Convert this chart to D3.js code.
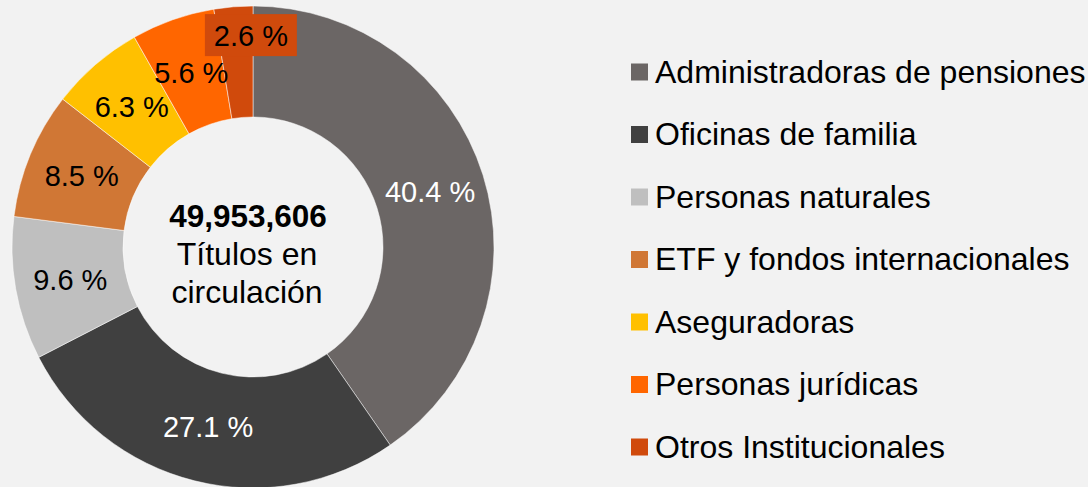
<!DOCTYPE html>
<html>
<head>
<meta charset="utf-8">
<script src="https://cdn.jsdelivr.net/npm/d3@7"></script>
<style>
  html, body { margin: 0; padding: 0; background: #f2f2f2; }
  svg { display: block; font-family: Arial, "Liberation Sans", sans-serif; }
</style>
</head>
<body>
<svg id="chart" width="1088" height="487"></svg>
<script>
const categories = [
  'Administradoras de pensiones',
  'Oficinas de familia',
  'Personas naturales',
  'ETF y fondos internacionales',
  'Aseguradoras',
  'Personas jurídicas',
  'Otros Institucionales'
];
const shares = [40.4, 27.1, 9.6, 8.5, 6.3, 5.6, 2.6];
const colors = ['#6b6665', '#404040', '#bfbfbf', '#d07735', '#ffc000', '#ff6600', '#d04a0c'];
const labelColors = ['#ffffff', '#ffffff', '#000000', '#000000', '#000000', '#000000', '#000000'];
const totalLabel = ['49,953,606', 'Títulos en', 'circulación'];

const svg = d3.select('#chart');
const cx = 253, cy = 247;
const outerR = 241, innerR = 130;

const color = d3.scaleOrdinal().domain(categories).range(colors);

const pie = d3.pie().sort(null).value(d => d.value);
const arcs = pie(categories.map((name, i) => ({ name, value: shares[i], i })));
const arc = d3.arc().innerRadius(innerR).outerRadius(outerR);

const g = svg.append('g').attr('transform', `translate(${cx},${cy})`);

g.selectAll('path.slice')
  .data(arcs)
  .enter().append('path')
  .attr('class', 'slice')
  .attr('d', arc)
  .attr('fill', d => color(d.data.name))
  .attr('stroke', '#ffffff')
  .attr('stroke-width', 0.5);

// the smallest slice gets its label pushed out onto a filled box
const labelShift = { 6: [13, -27] };

const labels = g.selectAll('g.lbl')
  .data(arcs)
  .enter().append('g')
  .attr('class', 'lbl')
  .attr('transform', d => {
    const [x, y] = arc.centroid(d);
    const s = labelShift[d.data.i] || [0, 0];
    return `translate(${x + s[0]},${y + s[1]})`;
  });

labels.filter(d => labelShift[d.data.i])
  .append('rect')
  .attr('x', -46).attr('y', -21)
  .attr('width', 92).attr('height', 42)
  .attr('fill', d => color(d.data.name));

labels.append('text')
  .attr('text-anchor', 'middle')
  .attr('dy', '0.36em')
  .attr('font-size', 29)
  .attr('fill', d => labelColors[d.data.i])
  .text(d => d3.format('.1f')(d.data.value) + ' %');

// center text (sits a little left of the ring's center)
const center = g.append('text').attr('text-anchor', 'middle').attr('fill', '#000');
center.append('tspan').attr('x', -5).attr('y', -20)
  .attr('font-weight', 'bold').attr('font-size', 31.5).text(totalLabel[0]);
center.append('tspan').attr('x', -6).attr('y', 18)
  .attr('font-size', 32).text(totalLabel[1]);
center.append('tspan').attr('x', -6).attr('y', 56)
  .attr('font-size', 32).text(totalLabel[2]);

// legend
const legendY = d3.scalePoint().domain(categories).range([72, 447]);
const legend = svg.append('g').attr('transform', 'translate(631,0)');
const item = legend.selectAll('g')
  .data(categories)
  .enter().append('g')
  .attr('transform', d => `translate(0,${legendY(d)})`);
item.append('rect')
  .attr('x', 0).attr('y', -8.5)
  .attr('width', 17).attr('height', 17)
  .attr('fill', d => color(d));
item.append('text')
  .attr('x', 24).attr('y', 10.5)
  .attr('font-size', 32)
  .attr('fill', '#000000')
  .text(d => d);
</script>
</body>
</html>
